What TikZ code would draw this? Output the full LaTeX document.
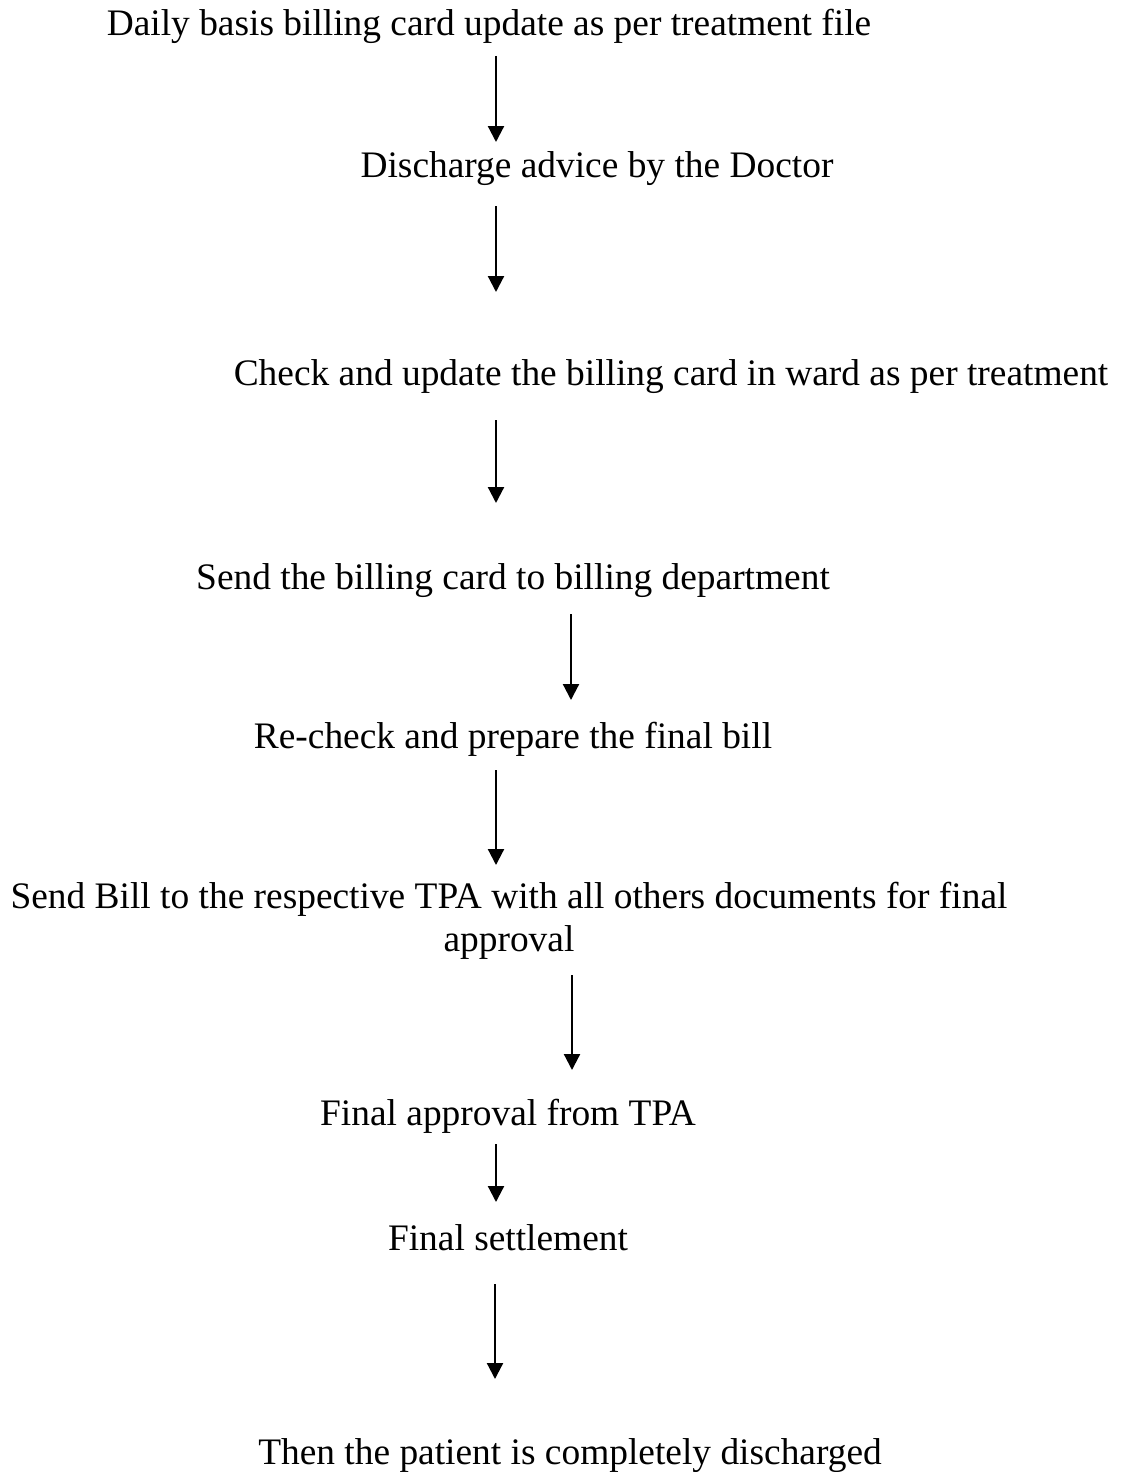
\documentclass[tikz,border=0pt]{standalone}
\usepackage{fontspec}
\setmainfont{Liberation Serif}
\usetikzlibrary{arrows.meta}
\begin{document}
\begin{tikzpicture}[x=1pt,y=-1pt,
  steptext/.style={anchor=base,inner sep=0pt,font=\fontsize{37.4}{44}\selectfont},
  flow/.style={line width=2.2pt,-{Triangle[length=16pt,width=16pt]}}]
\useasboundingbox (0,0) rectangle (1122,1472);
% process steps
\node[steptext] (t1) at (489,36) {Daily basis billing card update as per treatment file};
\node[steptext] (t2) at (597,177) {Discharge advice by the Doctor};
\node[steptext] (t3) at (671,385) {Check and update the billing card in ward as per treatment};
\node[steptext] (t4) at (513,589) {Send the billing card to billing department};
\node[steptext] (t5) at (513,748) {Re-check and prepare the final bill};
\node[steptext] (t6) at (509,908) {Send Bill to the respective TPA with all others documents for final};
\node[steptext] (t6b) at (509,951) {approval};
\node[steptext] (t7) at (508,1125) {Final approval from TPA};
\node[steptext] (t8) at (508,1250) {Final settlement};
\node[steptext] (t9) at (570,1464) {Then the patient is completely discharged};
% arrow end points
\coordinate (s1) at (496,56);   \coordinate (e1) at (496,142);
\coordinate (s2) at (496,206);  \coordinate (e2) at (496,292);
\coordinate (s3) at (496,420);  \coordinate (e3) at (496,503);
\coordinate (s4) at (571,614);  \coordinate (e4) at (571,700);
\coordinate (s5) at (496,770);  \coordinate (e5) at (496,865);
\coordinate (s6) at (572,975);  \coordinate (e6) at (572,1070);
\coordinate (s7) at (496,1144); \coordinate (e7) at (496,1202);
\coordinate (s8) at (495,1284); \coordinate (e8) at (495,1379);
\foreach \i in {1,...,8} \draw[flow] (s\i) -- (e\i);
\end{tikzpicture}
\end{document}
